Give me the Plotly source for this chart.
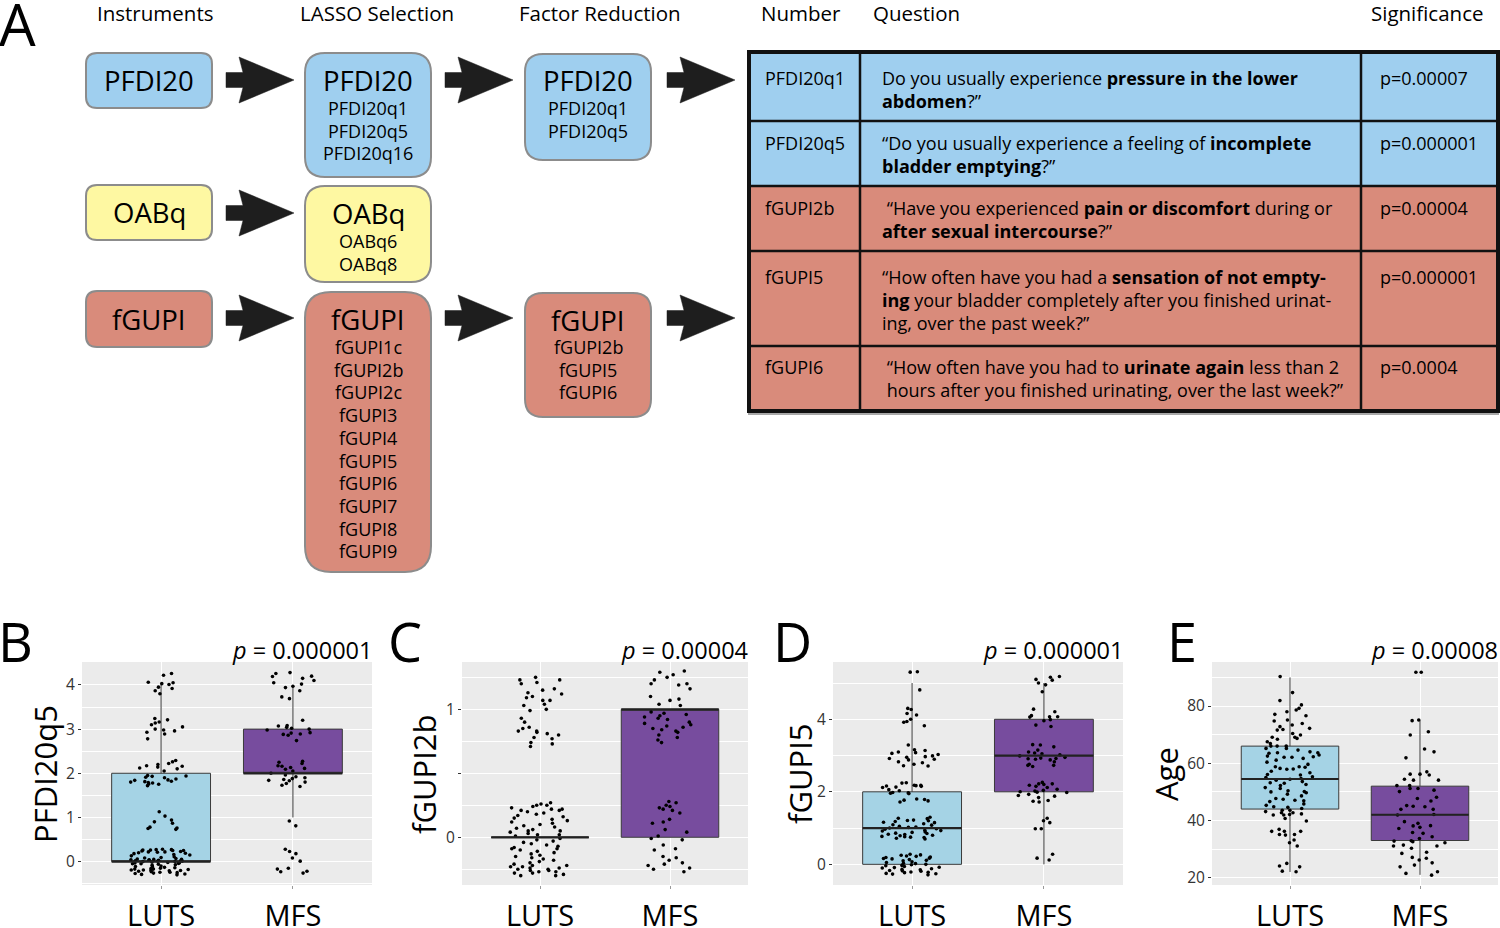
import plotly.graph_objects as go

W, H = 1500, 928
FONT = "Open Sans"

# ===================== DATA =====================
categories = ["LUTS", "MFS"]
panel_letters = ["B", "C", "D", "E"]
y_titles = ["PFDI20q5", "fGUPI2b", "fGUPI5", "Age"]
p_values = ["0.000001", "0.00004", "0.000001", "0.00008"]

# box statistics, order [LUTS, MFS]
pfdi20q5_q1 = [0, 2]
pfdi20q5_median = [0, 2]
pfdi20q5_q3 = [2, 3]
pfdi20q5_lower = [0, 1]
pfdi20q5_upper = [4, 4]

fgupi2b_q1 = [0, 0]
fgupi2b_median = [0, 1]
fgupi2b_q3 = [0, 1]
fgupi2b_lower = [0, 0]
fgupi2b_upper = [0, 1]

fgupi5_q1 = [0, 2]
fgupi5_median = [1, 3]
fgupi5_q3 = [2, 4]
fgupi5_lower = [0, 0]
fgupi5_upper = [5, 5]

age_q1 = [44, 33]
age_median = [54.5, 42]
age_q3 = [66, 52]
age_lower = [22, 21]
age_upper = [90, 75]

# jittered observations as they appear in the picture
luts_pfdi20q5 = [4.26, 4.22, 4.06, 4.05, 4.03, 4.01, 3.95, 3.92, 3.87, 3.8,
                 3.24, 3.21, 3.16, 3.14, 3.1, 3.05, 3.0, 2.98, 2.96, 2.93, 2.89, 2.78,
                 2.29, 2.26, 2.22, 2.2, 2.17, 2.16, 2.14, 2.12, 2.1, 2.05, 1.95, 1.94, 1.93,
                 1.91, 1.9, 1.87, 1.85, 1.84, 1.82, 1.81, 1.8, 1.79, 1.78, 1.76, 1.75, 1.72,
                 1.13, 1.03, 0.94, 0.9, 0.87, 0.78, 0.76, 0.75, 0.73,
                 0.28, 0.26, 0.27, 0.22, 0.25, 0.19, 0.24, 0.16, 0.21, 0.27, 0.13, 0.23,
                 0.18, 0.25, 0.11, 0.2, 0.26, 0.15, 0.09, 0.22, 0.07, 0.04, 0.06, 0.02,
                 0.05, -0.01, 0.03, 0.0, 0.08, -0.03, 0.01, -0.02, 0.05, -0.05, 0.04,
                 -0.04, 0.02, -0.06, 0.0, -0.08, 0.03, -0.03, -0.07, 0.01, -0.1, -0.05,
                 -0.12, -0.14, -0.18, -0.2, -0.17, -0.22, -0.15, -0.24, -0.19, -0.27,
                 -0.13, -0.21, -0.28, -0.16, -0.25, -0.3, -0.23, -0.19, -0.26, -0.11,
                 -0.29, -0.2, -0.24, -0.17]
mfs_pfdi20q5 = [4.28, 4.26, 4.2, 4.19, 4.15, 4.1, 4.05, 4.02, 3.97, 3.94, 3.87, 3.73, 3.69,
                3.2, 3.08, 3.07, 3.04, 3.02, 3.0, 2.98, 2.92, 2.91, 2.89, 2.88, 2.86, 2.74,
                2.27, 2.25, 2.22, 2.17, 2.16, 2.13, 2.11, 2.09, 2.05, 2.0, 1.96, 1.92, 1.9,
                1.88, 1.86, 1.84, 1.83, 1.8, 1.77, 1.73, 1.7,
                0.92, 0.81,
                0.28, 0.23, 0.18, 0.08, 0.01, -0.15, -0.17, -0.22, -0.23, -0.26]

luts_fgupi2b = [1.25, 1.23, 1.23, 1.21, 1.2, 1.16, 1.15, 1.13, 1.12, 1.1, 1.09, 1.07,
                1.07, 1.04, 1.03, 1.0, 0.99, 0.93, 0.9, 0.86, 0.85, 0.83, 0.83, 0.82,
                0.81, 0.8, 0.78, 0.77, 0.74, 0.73, 0.71,
                0.27, 0.25, 0.26, 0.23, 0.21, 0.24, 0.22, 0.19, 0.25, 0.18, 0.2, 0.16,
                0.22, 0.14, 0.17, 0.12, 0.21, 0.1, 0.15, 0.13, 0.08, 0.11, 0.06, 0.09,
                0.05, 0.07, 0.03, 0.04, 0.02, 0.05, 0.01, -0.01, 0.02, -0.02, -0.04,
                -0.03, -0.05, -0.06, -0.08, -0.07, -0.09, -0.1, -0.12, -0.11, -0.13,
                -0.09, -0.15, -0.14, -0.17, -0.16, -0.19, -0.18, -0.2, -0.22, -0.21,
                -0.23, -0.24, -0.22, -0.25, -0.26, -0.24, -0.27, -0.28, -0.26, -0.29,
                -0.3, -0.28, -0.25, -0.3, -0.27, -0.23]
mfs_fgupi2b = [1.3, 1.29, 1.27, 1.25, 1.23, 1.2, 1.2, 1.19, 1.16, 1.1, 1.08, 1.07, 1.04,
               1.03, 0.98, 0.97, 0.96, 0.95, 0.94, 0.93, 0.92, 0.9, 0.89, 0.88, 0.87,
               0.86, 0.85, 0.84, 0.83, 0.82, 0.8, 0.78, 0.76, 0.74,
               0.28, 0.27, 0.25, 0.24, 0.23, 0.22, 0.21, 0.19, 0.14, 0.12, 0.11, 0.06,
               0.04, 0.01, -0.01, -0.02, -0.06, -0.09, -0.1, -0.15, -0.16, -0.18, -0.2,
               -0.21, -0.22, -0.24, -0.25, -0.27]

luts_fgupi5 = [5.3, 5.31, 4.81,
               4.3, 4.27, 4.16, 4.12, 4.0, 3.94, 3.92, 3.82,
               3.29, 3.16, 3.14, 3.1, 3.08, 3.06, 3.03, 2.99, 2.97, 2.95, 2.92, 2.9,
               2.88, 2.83, 2.8, 2.76, 2.72, 2.71,
               2.25, 2.24, 2.18, 2.18, 2.17, 2.16, 2.15, 2.13, 2.12, 2.06, 2.03, 1.98,
               1.97, 1.96, 1.95, 1.8, 1.79, 1.77, 1.75, 1.72,
               1.3, 1.27, 1.26, 1.22, 1.21, 1.2, 1.18, 1.16, 1.15, 1.12, 1.09, 1.08,
               1.05, 1.03, 1.02, 1.0, 0.98, 0.97, 0.94, 0.93, 0.92, 0.89, 0.88, 0.86,
               0.85, 0.83, 0.82, 0.8, 0.79, 0.77, 0.76, 0.75, 0.74, 0.72, 0.7,
               0.28, 0.26, 0.25, 0.23, 0.22, 0.2, 0.19, 0.17, 0.16, 0.15, 0.13, 0.11,
               0.1, 0.07, 0.05, 0.03, 0.02, 0.0, -0.01, -0.03, -0.04, -0.06, -0.08,
               -0.09, -0.1, -0.12, -0.14, -0.15, -0.17, -0.18, -0.19, -0.21, -0.22,
               -0.23, -0.25, -0.26, -0.27, -0.29]
mfs_fgupi5 = [5.18, 5.16, 5.1, 5.08, 5.0, 4.95, 4.76,
              4.28, 4.21, 4.1, 4.07, 4.07, 4.06, 3.99, 3.96, 3.84, 3.8,
              3.3, 3.29, 3.24, 3.15, 3.1, 3.07, 3.05, 3.02, 2.99, 2.95, 2.93, 2.92,
              2.91, 2.9, 2.88, 2.83, 2.76, 2.73, 2.73, 2.7,
              2.26, 2.22, 2.22, 2.2, 2.18, 2.15, 2.12, 2.07, 2.04, 2.02, 2.0, 1.99,
              1.98, 1.93, 1.9, 1.88, 1.84, 1.76, 1.74, 1.72,
              1.27, 1.2, 1.15, 0.98, 0.98,
              0.28, 0.17, 0.12]

luts_age = [90.3, 84.7, 81.9, 80.4, 79.2, 78.6, 78.0, 77.1, 76.6, 75.1, 74.8, 73.9,
            73.4, 72.8, 72.2, 71.8, 71.6, 70.4, 69.9, 69.1, 69.1, 68.7, 68.4, 67.5,
            66.9, 66.0, 66.0, 66.0, 65.2, 65.2, 64.6, 64.0, 63.7, 63.7, 63.5, 62.9,
            62.5, 62.3, 62.1, 62.1, 61.7, 61.1, 60.4, 59.6, 58.8, 58.8, 58.6, 58.2,
            58.0, 57.9, 57.2, 56.7, 56.1, 55.9, 55.3, 55.0, 54.7, 54.4, 54.1, 53.6,
            53.2, 53.0, 52.6, 52.2, 51.5, 51.2, 50.4, 50.1, 50.0, 49.7, 49.2, 48.6,
            47.7, 47.4, 47.1, 46.9, 46.6, 45.8, 45.3, 44.8, 44.6, 44.2, 43.6, 43.6,
            43.1, 42.7, 42.7, 42.3, 42.1, 41.9, 41.9, 40.7, 39.8, 36.9, 36.2, 36.2,
            36.2, 35.1, 35.1, 34.9, 33.2, 32.2, 31.1, 25.0, 24.1, 23.8, 22.3, 22.1]
mfs_age = [91.8, 91.8, 75.1, 74.9, 71.0, 69.9, 65.0, 64.0, 61.9, 57.0, 56.2, 56.2,
           55.9, 54.4, 54.1, 54.1, 52.2, 52.2, 51.2, 51.2, 50.6, 50.1, 48.1, 47.7,
           46.8, 45.2, 45.0, 44.8, 43.9, 43.9, 42.1, 41.9, 39.6, 39.0, 38.2, 38.1,
           37.6, 37.2, 35.8, 35.5, 34.3, 33.7, 32.9, 32.8, 32.6, 32.2, 31.4, 31.1,
           31.1, 30.3, 28.9, 28.5, 27.1, 26.8, 26.2, 25.2, 24.4, 23.8, 22.1, 21.5, 20.9]

y_tickvals = [[0, 1, 2, 3, 4], [0, 0.5, 1], [0, 2, 4], [20, 40, 60, 80]]
y_ticktext = [["0", "1", "2", "3", "4"], ["0", "", "1"], ["0", "2", "4"], ["20", "40", "60", "80"]]

# Panel A diagram text
instruments = ["PFDI20", "OABq", "fGUPI"]
lasso_items = [["PFDI20q1", "PFDI20q5", "PFDI20q16"],
               ["OABq6", "OABq8"],
               ["fGUPI1c", "fGUPI2b", "fGUPI2c", "fGUPI3", "fGUPI4", "fGUPI5",
                "fGUPI6", "fGUPI7", "fGUPI8", "fGUPI9"]]
factor_items = [["PFDI20q1", "PFDI20q5"], None, ["fGUPI2b", "fGUPI5", "fGUPI6"]]
headings = ["Instruments", "LASSO Selection", "Factor Reduction", "Number", "Question", "Significance"]
table_numbers = ["PFDI20q1", "PFDI20q5", "fGUPI2b", "fGUPI5", "fGUPI6"]
table_groups = [0, 0, 2, 2, 2]
table_questions = [
    ["Do you usually experience <b>pressure in the lower</b>", "<b>abdomen</b>?\u201d"],
    ["\u201cDo you usually experience a feeling of <b>incomplete</b>", "<b>bladder emptying</b>?\u201d"],
    [" \u201cHave you experienced <b>pain or discomfort</b> during or", "<b>after sexual intercourse</b>?\u201d"],
    ["\u201cHow often have you had a <b>sensation of not empty-</b>",
     "<b>ing</b> your bladder completely after you finished urinat-",
     "ing, over the past week?\u201d"],
    [" \u201cHow often have you had to <b>urinate again</b> less than 2",
     " hours after you finished urinating, over the last week?\u201d"],
]
table_p = ["p=0.00007", "p=0.000001", "p=0.00004", "p=0.000001", "p=0.0004"]

# ===================== STYLE / LAYOUT =====================
group_colors = ["#9FCFEF", "#FEF8A2", "#D98B7B"]
box_fill = ["#A5D3E5", "#774C9E"]


def px(x):
    return x / W


def py(y):
    return 1 - y / H


shapes = []
annotations = []


def text(x, y, s, size, xanchor="center", yanchor="middle", color="black",
         family=FONT, angle=0):
    annotations.append(dict(x=px(x), y=py(y), xref="paper", yref="paper", text=s,
                            showarrow=False, xanchor=xanchor, yanchor=yanchor,
                            textangle=angle,
                            font=dict(size=size, color=color, family=family),
                            borderpad=0))


def rrect(x0, y0, x1, y1, r, fill, line="#8C8C8C", lw=2):
    p = (f"M {px(x0 + r)},{py(y0)} L {px(x1 - r)},{py(y0)} "
         f"Q {px(x1)},{py(y0)} {px(x1)},{py(y0 + r)} L {px(x1)},{py(y1 - r)} "
         f"Q {px(x1)},{py(y1)} {px(x1 - r)},{py(y1)} L {px(x0 + r)},{py(y1)} "
         f"Q {px(x0)},{py(y1)} {px(x0)},{py(y1 - r)} L {px(x0)},{py(y0 + r)} "
         f"Q {px(x0)},{py(y0)} {px(x0 + r)},{py(y0)} Z")
    shapes.append(dict(type="path", path=p, xref="paper", yref="paper",
                       fillcolor=fill, line=dict(color=line, width=lw)))


def arrow(x0, c):
    pts = [(x0, c - 7.5), (x0 + 17, c - 7.5), (x0 + 13, c - 23), (x0 + 68, c),
           (x0 + 13, c + 23), (x0 + 17, c + 7.5), (x0, c + 7.5)]
    p = "M " + " L ".join(f"{px(a)},{py(b)}" for a, b in pts) + " Z"
    shapes.append(dict(type="path", path=p, xref="paper", yref="paper",
                       fillcolor="#1E1E1E", line=dict(color="#1E1E1E", width=0.5)))


def rect(x0, y0, x1, y1, fill=None, line=None, lw=0):
    d = dict(type="rect", xref="paper", yref="paper", x0=px(x0), x1=px(x1),
             y0=py(y1), y1=py(y0), line=dict(width=lw, color=line or "rgba(0,0,0,0)"))
    if fill:
        d["fillcolor"] = fill
    shapes.append(d)


def line(x0, y0, x1, y1, color="black", lw=2):
    shapes.append(dict(type="line", xref="paper", yref="paper", x0=px(x0), x1=px(x1),
                       y0=py(y0), y1=py(y1), line=dict(color=color, width=lw)))


# ---------- Panel A ----------
text(17, 24, "A", 58)
heading_x = [155, 377, 600, 801, 916, 1427]
for hx, h in zip(heading_x, headings):
    text(hx, 13, h, 20.5)

row_centers = [80, 213, 318]
col1_boxes = [(86, 53, 212, 108), (86, 185, 212, 240), (86, 291, 212, 347)]
lasso_boxes = [(305, 53, 431, 177), (305, 186, 431, 282), (305, 292, 431, 572)]
factor_boxes = [(525, 54, 651, 160), None, (525, 293, 651, 417)]
item_step = 22.7

for i, name in enumerate(instruments):
    col = group_colors[i]
    x0, y0, x1, y1 = col1_boxes[i]
    rrect(x0, y0, x1, y1, 11, col)
    text((x0 + x1) / 2, (y0 + y1) / 2, name, 27.5)
    arrow(226, row_centers[i])
    # LASSO box
    x0, y0, x1, y1 = lasso_boxes[i]
    rrect(x0, y0, x1, y1, 20 if i < 2 else 26, col)
    text((x0 + x1) / 2, y0 + 27, name, 27.5)
    for k, it in enumerate(lasso_items[i]):
        text((x0 + x1) / 2, y0 + 55 + k * item_step, it, 18)
    if factor_items[i] is not None:
        arrow(445, row_centers[i])
        x0, y0, x1, y1 = factor_boxes[i]
        rrect(x0, y0, x1, y1, 18, col)
        text((x0 + x1) / 2, y0 + 27, name, 27.5)
        for k, it in enumerate(factor_items[i]):
            text((x0 + x1) / 2, y0 + 54 + k * item_step, it, 18)
        arrow(667, row_centers[i])

# ---------- Table ----------
row_edges = [52, 121, 186, 251, 346, 411]
first_line_y = [78, 143, 208, 277, 367]
tx0, tx1 = 748, 1499
col_div = [860, 1361]
for r in range(5):
    rect(tx0, row_edges[r], tx1, row_edges[r + 1], fill=group_colors[table_groups[r]])
for r in range(1, 5):
    line(tx0, row_edges[r], tx1, row_edges[r], "#111111", 2.5)
for cx in col_div:
    line(cx, row_edges[0], cx, row_edges[-1], "#111111", 2.5)
line(tx0, row_edges[-1] + 3, tx1, row_edges[-1] + 3, "#A8A8A8", 2)
rect(tx0 + 1, row_edges[0], tx1 - 1, row_edges[-1], line="#111111", lw=4)
for r in range(5):
    y = first_line_y[r]
    text(764, y, table_numbers[r], 18, xanchor="left")
    text(1379, y, table_p[r], 18, xanchor="left")
    for k, ln in enumerate(table_questions[r]):
        text(881, y + k * 22.8, ln, 18, xanchor="left")

# ---------- Panels B-E ----------
panels = [
    dict(luts=luts_pfdi20q5, mfs=mfs_pfdi20q5, q1=pfdi20q5_q1, med=pfdi20q5_median,
         q3=pfdi20q5_q3, lo=pfdi20q5_lower, hi=pfdi20q5_upper),
    dict(luts=luts_fgupi2b, mfs=mfs_fgupi2b, q1=fgupi2b_q1, med=fgupi2b_median,
         q3=fgupi2b_q3, lo=fgupi2b_lower, hi=fgupi2b_upper),
    dict(luts=luts_fgupi5, mfs=mfs_fgupi5, q1=fgupi5_q1, med=fgupi5_median,
         q3=fgupi5_q3, lo=fgupi5_lower, hi=fgupi5_upper),
    dict(luts=luts_age, mfs=mfs_age, q1=age_q1, med=age_median,
         q3=age_q3, lo=age_lower, hi=age_upper),
]
plot_x = [(82, 372), (462, 748), (833, 1123), (1212, 1498)]
plot_y = (662, 885)
y_ranges = [[-0.53, 4.52], [-0.373, 1.37], [-0.57, 5.58], [17.45, 95.4]]
minor_step = [0.5, 0.25, 1, 10]
title_x = [45, 424, 800, 1166]
letter_x = [15, 405, 793, 1182]
BOXW = 0.75

fig = go.Figure()
for i, pnl in enumerate(panels):
    xa = "x" if i == 0 else f"x{i + 1}"
    ya = "y" if i == 0 else f"y{i + 1}"
    for g, cat in enumerate(categories):
        pos = g + 1
        fig.add_trace(go.Box(
            x=[pos], q1=[pnl["q1"][g]], median=[pnl["med"][g]], q3=[pnl["q3"][g]],
            lowerfence=[pnl["lo"][g]], upperfence=[pnl["hi"][g]],
            fillcolor=box_fill[g], line=dict(color="#3A3A3A", width=1),
            whiskerwidth=0, width=BOXW, boxpoints=False, xaxis=xa, yaxis=ya,
            showlegend=False, hoverinfo="skip"))
        fig.add_trace(go.Scatter(
            x=[pos - BOXW / 2, pos + BOXW / 2], y=[pnl["med"][g]] * 2, mode="lines",
            line=dict(color="#222222", width=2.2), xaxis=xa, yaxis=ya,
            showlegend=False, hoverinfo="skip"))
    for g, cat in enumerate(categories):
        pos = g + 1
        vals = pnl["luts"] if g == 0 else pnl["mfs"]
        fig.add_trace(go.Box(
            x=[pos] * len(vals), y=vals, boxpoints="all", jitter=0.62, pointpos=0,
            width=BOXW, fillcolor="rgba(0,0,0,0)",
            line=dict(width=0, color="rgba(0,0,0,0)"), whiskerwidth=0,
            marker=dict(color="black", size=3.6), xaxis=xa, yaxis=ya,
            showlegend=False, hoverinfo="skip"))
    xkey = "xaxis" if i == 0 else f"xaxis{i + 1}"
    ykey = "yaxis" if i == 0 else f"yaxis{i + 1}"
    x0, x1 = plot_x[i]
    fig.layout[xkey] = dict(
        domain=[px(x0), px(x1)], anchor=ya, range=[0.4, 2.6], automargin=False,
        tickmode="array", tickvals=[1, 2], ticktext=categories,
        showgrid=True, gridcolor="white", gridwidth=1.2, zeroline=False,
        ticks="outside", ticklen=3, tickcolor="#9A9A9A", tickwidth=1,
        tickfont=dict(size=29, color="black", family=FONT), ticklabelstandoff=2,
        fixedrange=True)
    fig.layout[ykey] = dict(
        domain=[py(plot_y[1]), py(plot_y[0])], anchor=xa, range=y_ranges[i],
        automargin=False,
        tickmode="array", tickvals=y_tickvals[i], ticktext=y_ticktext[i],
        showgrid=True, gridcolor="white", gridwidth=1.2, zeroline=False,
        minor=dict(tickmode="linear", tick0=0, dtick=minor_step[i], showgrid=True,
                   gridcolor="white", gridwidth=0.6, ticks=""),
        ticks="outside", ticklen=3, tickcolor="#333333", tickwidth=1,
        tickfont=dict(size=15.5, color="#333333", family=FONT),
        fixedrange=True)
    text(title_x[i], 774, y_titles[i], 31, angle=-90)
    text(letter_x[i], 641, panel_letters[i], 54)
    text(x1 + 1, 650, f"<i>p</i> = {p_values[i]}", 23.5, xanchor="right")

fig.update_layout(
    width=W, height=H, margin=dict(l=0, r=0, t=0, b=0, autoexpand=False),
    paper_bgcolor="white", plot_bgcolor="#EBEBEB", boxmode="overlay",
    font=dict(family=FONT, color="black"),
    shapes=shapes, annotations=annotations, showlegend=False)

fig.write_html("out.html", config={"displayModeBar": False},
               post_script="document.body.style.margin='0';"
                           "document.body.style.overflow='hidden';")
